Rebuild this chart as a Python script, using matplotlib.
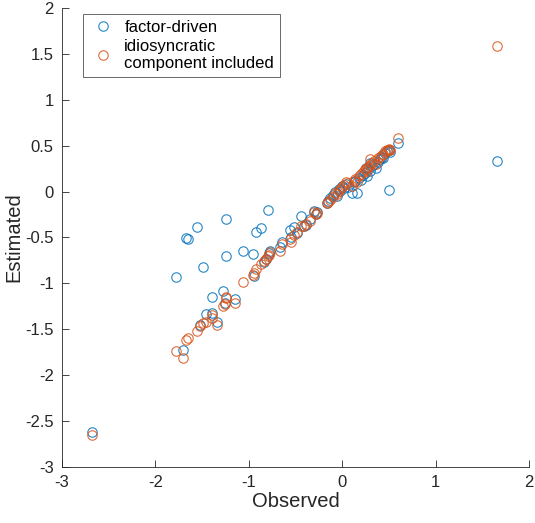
import matplotlib
matplotlib.use('Agg')
import matplotlib.pyplot as plt
import numpy as np

# observed value, factor-driven estimate, estimate with idiosyncratic component
observed = [
    -2.68, 1.66, 0.50, -1.78, -1.70, -1.67, -1.65, -1.56, -1.49, -1.52,
    -1.46, -1.40, -1.40, -1.34, -1.28, -1.26, -1.24, -1.24, -1.15, -1.06,
    -0.96, -0.95, -0.92, -0.87, -0.84, -0.82, -0.79, -0.78, -0.77, -0.67,
    -0.65, -0.56, -0.55, -0.52, -0.49, -0.44, -0.41, -0.39, -0.30, -0.28,
    -0.27, -0.16, -0.15, -0.13, -0.10, -0.08, -0.06, -0.04, -0.02, 0.00,
    0.02, 0.04, 0.06, 0.10, 0.16, 0.14, 0.18, 0.20, 0.22, 0.24,
    0.26, 0.28, 0.30, 0.32, 0.34, 0.36, 0.38, 0.40, 0.42, 0.44,
    0.46, 0.48, 0.50, 0.51, 0.60, 0.25, 0.12, -0.35, 0.30,
]
factor_driven = [
    -2.62, 0.33, 0.02, -0.93, -1.73, -0.51, -0.52, -0.39, -0.82, -1.45,
    -1.33, -1.15, -1.32, -1.42, -1.08, -1.21, -0.30, -0.70, -1.17, -0.65,
    -0.68, -0.92, -0.44, -0.40, -0.77, -0.73, -0.20, -0.67, -0.65, -0.60,
    -0.55, -0.42, -0.50, -0.39, -0.45, -0.27, -0.38, -0.36, -0.21, -0.24,
    -0.22, -0.13, -0.10, -0.07, -0.04, 0.00, -0.05, 0.03, 0.01, 0.06,
    0.04, 0.08, 0.05, -0.02, -0.02, 0.12, 0.15, 0.13, 0.18, 0.20,
    0.17, 0.24, 0.22, 0.28, 0.30, 0.26, 0.32, 0.35, 0.38, 0.36,
    0.42, 0.44, 0.45, 0.43, 0.53, 0.26, 0.10, -0.30, 0.31,
]
idiosyncratic = [
    -2.65, 1.58, 0.45, -1.74, -1.81, -1.62, -1.60, -1.52, -1.43, -1.46,
    -1.42, -1.38, -1.34, -1.45, -1.25, -1.22, -1.16, -1.15, -1.21, -0.99,
    -0.91, -0.89, -0.84, -0.79, -0.76, -0.74, -0.70, -0.69, -0.66, -0.65,
    -0.57, -0.52, -0.55, -0.47, -0.44, -0.37, -0.38, -0.35, -0.22, -0.24,
    -0.23, -0.12, -0.11, -0.09, -0.06, -0.02, -0.03, 0.01, 0.03, 0.05,
    0.07, 0.10, 0.09, 0.06, 0.10, 0.14, 0.17, 0.19, 0.21, 0.24,
    0.22, 0.27, 0.29, 0.31, 0.33, 0.30, 0.36, 0.38, 0.40, 0.41,
    0.44, 0.45, 0.46, 0.45, 0.58, 0.25, 0.11, -0.32, 0.35,
]

plt.rcParams['font.family'] = ['Liberation Sans', 'DejaVu Sans']

blue = '#0072BD'
orange = '#D95319'
axis_gray = '#262626'

figure = plt.figure(figsize=(5.35, 5.23), dpi=100)
ax = figure.add_axes([0.116, 0.107, 0.873, 0.878])

ax.plot(observed, factor_driven, 'o', linestyle='none', markersize=6.8,
        markerfacecolor='none', markeredgecolor=blue, markeredgewidth=0.8,
        alpha=0.85, label='factor-driven')
ax.plot(observed, idiosyncratic, 'o', linestyle='none', markersize=6.8,
        markerfacecolor='none', markeredgecolor=orange, markeredgewidth=0.8,
        alpha=0.85, label='idiosyncratic\ncomponent included')

ax.set_xlim(-3, 2)
ax.set_ylim(-3, 2)
ax.set_xticks(np.arange(-3, 3, 1))
ax.set_yticks(np.arange(-3, 2.5, 0.5))
ax.set_yticklabels(['-3', '-2.5', '-2', '-1.5', '-1', '-0.5', '0', '0.5', '1', '1.5', '2'])
ax.set_xticklabels(['-3', '-2', '-1', '0', '1', '2'])
ax.tick_params(direction='in', length=5, width=0.6, labelsize=12,
               colors=axis_gray, pad=6)
for side in ('top', 'right'):
    ax.spines[side].set_visible(False)
for side in ('left', 'bottom'):
    ax.spines[side].set_color(axis_gray)
    ax.spines[side].set_linewidth(0.6)

ax.set_xlabel('Observed', fontsize=14.5, color=axis_gray, labelpad=1)
ax.set_ylabel('Estimated', fontsize=14.5, color=axis_gray, labelpad=1)

legend = ax.legend(loc='upper left', bbox_to_anchor=(0.037, 0.993), fontsize=12,
                   frameon=True, fancybox=False, edgecolor=axis_gray,
                   handlelength=1.7, handletextpad=0.45, borderpad=0.35,
                   labelspacing=0.2, borderaxespad=0.2)
legend.get_frame().set_linewidth(0.6)

figure.savefig('out.png', dpi=100)
